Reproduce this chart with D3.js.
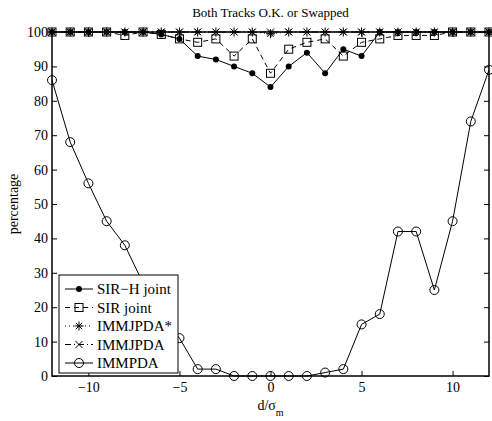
<!DOCTYPE html>
<html><head><meta charset="utf-8">
<script src="https://cdn.jsdelivr.net/npm/d3@7"></script>
<style>body{margin:0;background:#fff}svg{display:block}text{font-family:"Liberation Serif","Times New Roman",serif;fill:#000}</style>
</head><body>
<svg id="c" width="492" height="421"></svg>
<script>
const xs = d3.range(-12, 13);
const sirH = [100,100,100,100,100,100,99.3,98,93,92,90,88,84,90,94,88,95,93,100,100,100,100,100,100,100];
const sirJ = [100,100,100,100,99,100,99.3,98,97,98,93,98,88,95,97,98,93,97,98,99,99,99,100,100,100];
const immjpdaStar = [100,100,100,100,100,100,100,100,100,100,100,100,99.5,100,100,100,100,100,100,100,100,100,100,100,100];
const immjpda = [100,100,100,100,100,100,100,100,100,100,100,100,100,100,100,100,100,100,100,100,100,100,100,100,100];
const immpda = [86,68,56,45,38,27,18,11,2,2,0,0,0,0,0,1,2,15,18,42,42,25,45,74,89];
const xTicks = [-10,-5,0,5,10];
const yTicks = [0,10,20,30,40,50,60,70,80,90,100];
const names = ["SIR\u2212H joint","SIR joint","IMMJPDA*","IMMJPDA","IMMPDA"];

const svg = d3.select("#c");
const L=52, R=489, T=32, B=376;
const x = d3.scaleLinear().domain([-12,12]).range([L,R]);
const y = d3.scaleLinear().domain([0,100]).range([B,T]);

const series = [
  {v:sirH, dash:null, marker:"dot"},
  {v:sirJ, dash:"5,4", marker:"square"},
  {v:immjpdaStar, dash:"1,3", marker:"star"},
  {v:immjpda, dash:"6,3,1,3", marker:"x"},
  {v:immpda, dash:null, marker:"circle"}
];

function drawMarker(g, type, cx, cy){
  if(type==="dot") g.append("circle").attr("cx",cx).attr("cy",cy).attr("r",3).attr("fill","#000");
  else if(type==="square") g.append("rect").attr("x",cx-4).attr("y",cy-4).attr("width",8).attr("height",8).attr("fill","none").attr("stroke","#000").attr("stroke-width",1);
  else if(type==="circle") g.append("circle").attr("cx",cx).attr("cy",cy).attr("r",4.5).attr("fill","none").attr("stroke","#000").attr("stroke-width",1);
  else if(type==="x"){
    const s=3.5;
    g.append("path").attr("d",`M${cx-s},${cy-s}L${cx+s},${cy+s}M${cx-s},${cy+s}L${cx+s},${cy-s}`).attr("stroke","#000").attr("stroke-width",1);
  } else if(type==="star"){
    const s=4.5, d=s*0.7;
    g.append("path").attr("d",`M${cx-s},${cy}L${cx+s},${cy}M${cx},${cy-s}L${cx},${cy+s}M${cx-d},${cy-d}L${cx+d},${cy+d}M${cx-d},${cy+d}L${cx+d},${cy-d}`).attr("stroke","#000").attr("stroke-width",1);
  }
}

const line = d3.line().x((d,i)=>x(xs[i])).y(d=>y(d));
const plot = svg.append("g");
series.forEach(s=>{
  plot.append("path").datum(s.v).attr("d",line).attr("fill","none").attr("stroke","#000").attr("stroke-width",1)
    .attr("stroke-dasharray",s.dash);
  s.v.forEach((v,i)=>drawMarker(plot,s.marker,x(xs[i]),y(v)));
});

// axes with inward ticks on all sides
const fs = "14px";
const ax = svg.append("g").attr("transform",`translate(0,${B})`).call(d3.axisBottom(x).tickValues(xTicks).tickSize(-5).tickPadding(6).tickFormat(d=>d<0?"\u2212"+Math.abs(d):d));
const ay = svg.append("g").attr("transform",`translate(${L},0)`).call(d3.axisLeft(y).tickValues(yTicks).tickSize(-5).tickPadding(4));
const ax2 = svg.append("g").attr("transform",`translate(0,${T})`).call(d3.axisTop(x).tickValues(xTicks).tickSize(-5).tickFormat(""));
const ay2 = svg.append("g").attr("transform",`translate(${R},0)`).call(d3.axisRight(y).tickValues(yTicks).tickSize(-5).tickFormat(""));
[ax,ay,ax2,ay2].forEach(a=>{
  a.select(".domain").remove();
  a.selectAll("line").attr("stroke","#000");
  a.selectAll("text").attr("font-family","Liberation Serif").attr("font-size",fs).attr("fill","#000");
});
svg.append("rect").attr("x",L).attr("y",T).attr("width",R-L).attr("height",B-T).attr("fill","none").attr("stroke","#000").attr("stroke-width",1.5);

// title and labels
svg.append("text").attr("x",(L+R)/2).attr("y",17).attr("text-anchor","middle").attr("font-size","13px").text("Both Tracks O.K. or Swapped");
const xl = svg.append("text").attr("x",(L+R)/2).attr("y",410).attr("text-anchor","middle").attr("font-size","14px");
xl.append("tspan").text("d/\u03c3");
xl.append("tspan").attr("font-size","10px").attr("dy",6).text("m");
svg.append("text").attr("transform",`translate(18,${(T+B)/2}) rotate(-90)`).attr("text-anchor","middle").attr("font-size","14px").text("percentage");

// legend
const lg = svg.append("g");
lg.append("rect").attr("x",59).attr("y",275).attr("width",119).attr("height",98).attr("fill","#fff").attr("stroke","#000").attr("stroke-width",1);
series.forEach((s,i)=>{
  const cy = 289 + i*18.5;
  lg.append("line").attr("x1",65).attr("x2",93).attr("y1",cy).attr("y2",cy).attr("stroke","#000").attr("stroke-width",1).attr("stroke-dasharray",s.dash);
  drawMarker(lg,s.marker,79,cy);
  lg.append("text").attr("x",97).attr("y",cy+5).attr("font-size","15px").text(names[i]);
});
</script>
</body></html>
